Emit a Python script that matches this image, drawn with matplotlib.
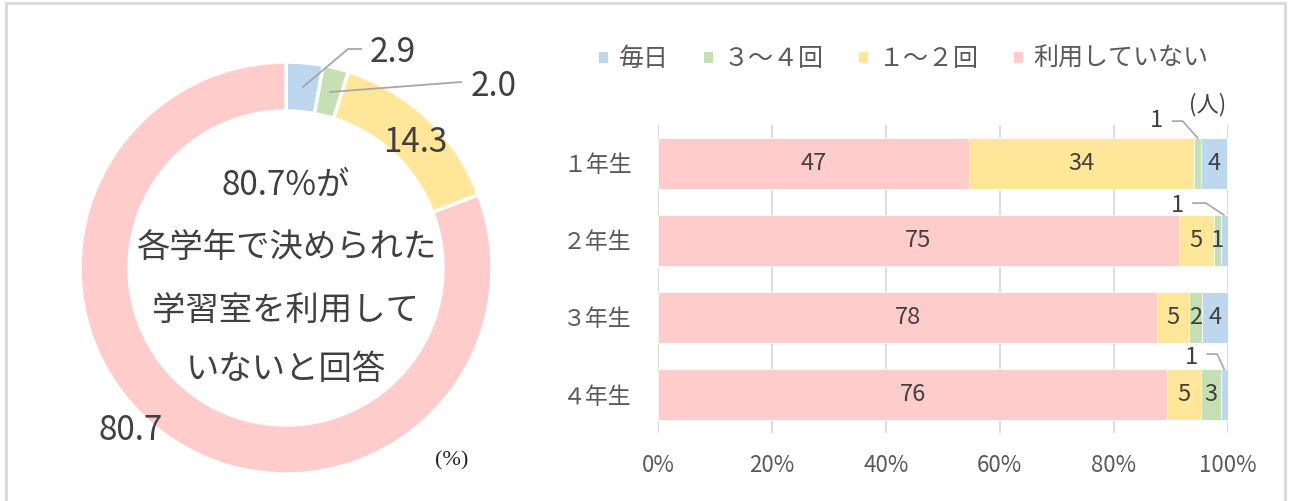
import numpy as np
import matplotlib
matplotlib.use("Agg")
import matplotlib.pyplot as plt
from matplotlib.patches import Rectangle

plt.rcParams['font.family'] = ['Noto Sans CJK JP', 'DejaVu Sans']

# data
grades = ["１年生", "２年生", "３年生", "４年生"]
series = ["利用していない", "１～２回", "３～４回", "毎日"]
not_used = [47, 75, 78, 76]
once_twice = [34, 5, 5, 5]
three_four = [1, 1, 2, 3]
daily = [4, 1, 4, 1]

donut_names = ["毎日", "３～４回", "１～２回", "利用していない"]
donut_pct = [2.9, 2.0, 14.3, 80.7]
center_lines = ["80.7%が", "各学年で決められた", "学習室を利用して", "いないと回答"]

colors = {"毎日": "#BDD7EE", "３～４回": "#C5E0B4", "１～２回": "#FFE699", "利用していない": "#FFCCCC"}
TXT = "#404040"
LBL = "#595959"
W, H = 1290, 501

fig = plt.figure(figsize=(W / 100, H / 100), dpi=100)
fig.patch.set_facecolor("white")
fig.patches.append(Rectangle((6 / W, -0.02), 1279 / W, 1.02 - 3 / H, transform=fig.transFigure,
                             fill=False, edgecolor="#D9D9D9", lw=2))

# ---- donut ----
cx, cy, R = 286, 268, 206
axd = fig.add_axes([(cx - R) / W, (H - cy - R) / H, 2 * R / W, 2 * R / H])
wedges, _ = axd.pie(donut_pct, startangle=90, counterclock=False, radius=1,
                    colors=[colors[n] for n in donut_names],
                    wedgeprops=dict(width=0.238, edgecolor="white", linewidth=2.5))
for w in wedges:
    w.set_clip_on(False)
axd.set_aspect("auto")
axd.set_xlim(-1, 1); axd.set_ylim(-1, 1)
axd.axis("off")


def pd(px, py):
    return (px - cx) / R, (cy - py) / R


fmt = lambda v: f"{v:.1f}"
axd.text(*pd(393, 52), fmt(donut_pct[0]), fontsize=24, color=TXT, ha="center", va="center")
axd.plot(*zip(pd(303, 87), pd(348, 49), pd(361, 49)), color="#A6A6A6", lw=1.3, clip_on=False)
axd.text(*pd(494, 87), fmt(donut_pct[1]), fontsize=24, color=TXT, ha="center", va="center")
axd.plot(*zip(pd(330, 92), pd(461, 82)), color="#A6A6A6", lw=1.3, clip_on=False)
axd.text(*pd(415, 142), fmt(donut_pct[2]), fontsize=24, color=TXT, ha="center", va="center")
axd.text(*pd(131, 430), fmt(donut_pct[3]), fontsize=24, color=TXT, ha="center", va="center")
for line, py in zip(center_lines, [185, 248, 310, 370]):
    axd.text(*pd(cx, py), line, fontsize=24, color=TXT, ha="center", va="center")
axd.text(*pd(452, 461), "(%)", fontsize=16, color="#222222", ha="center", va="center",
         family="Liberation Serif")

# ---- 100% stacked bars ----
left_px, right_px, top_px, bot_px = 658, 1227.5, 125, 433
ax = fig.add_axes([left_px / W, 1 - bot_px / H, (right_px - left_px) / W, (bot_px - top_px) / H])
vals = np.array([not_used, once_twice, three_four, daily], float)
tot = vals.sum(axis=0)
pct = vals / tot * 100
y = np.arange(len(grades))
left = np.zeros(len(grades))
handles = {}
bh = 0.66
for k, name in enumerate(series):
    b = ax.barh(y, pct[k], left=left, height=bh, color=colors[name], edgecolor="white", lw=0.6,
                label=name, zorder=2)
    handles[name] = b
    left = left + pct[k]

# value labels; (series index, grade index) pairs shown with a leader instead
# (elbow dx, elbow dy, horizontal run, text dy) in pixels
callouts = {(2, 0): (-15, -17, 10, -1), (3, 1): (-18, -12, 13, 2), (3, 3): (-7, -15, 10, 3)}
xs, ys = 100 / (right_px - left_px), 1 / 77
cum = np.vstack([np.zeros(len(grades)), np.cumsum(pct, axis=0)])
for k in range(len(series)):
    for i in range(len(grades)):
        xc = (cum[k, i] + cum[k + 1, i]) / 2
        v = int(vals[k, i])
        if (k, i) in callouts:
            dx, dy, run, tdy = callouts[(k, i)]
            top = i - bh / 2
            ex, ey = xc + dx * xs, top + dy * ys
            sx = ex - run * xs
            ax.plot([sx, ex, xc], [ey, ey, top], color="#A6A6A6", lw=1.2, clip_on=False, zorder=3)
            ax.text(sx - 16 * xs, ey + tdy * ys, str(v), fontsize=17, color=TXT, ha="center", va="center")
        else:
            ax.text(xc, i, str(v), fontsize=17, color=TXT, ha="center", va="center", zorder=4)

ax.set_xlim(0, 100)
ax.set_ylim(len(grades) - 0.5, -0.5)
ax.set_xticks([0, 20, 40, 60, 80, 100])
ax.set_xticklabels([f"{t}%" for t in [0, 20, 40, 60, 80, 100]])
ax.set_yticks(y)
ax.set_yticklabels(grades)
ax.tick_params(axis="x", length=0, pad=15, labelsize=16, labelcolor=LBL)
ax.tick_params(axis="y", length=0, pad=19, labelsize=16.5, labelcolor=LBL)
for s in ax.spines.values():
    s.set_visible(False)
ax.grid(axis="x", color="#D9D9D9", lw=1.3, zorder=0)
ax.set_axisbelow(True)
ax.text((1208 - left_px) / (right_px - left_px), 1 + (top_px - 105) / (bot_px - top_px), "(人)",
        transform=ax.transAxes, fontsize=16, color=TXT, ha="center", va="center")

order = ["毎日", "３～４回", "１～２回", "利用していない"]
ax.legend([handles[n] for n in order], order, loc="center left", bbox_to_anchor=(585 / W, 1 - 59 / H),
          bbox_transform=fig.transFigure, frameon=False, ncol=4, fontsize=18, borderpad=0,
          handlelength=0.4, handleheight=0.4, handletextpad=0.45, columnspacing=1.35, labelcolor=LBL)

fig.savefig("out.png", dpi=100, facecolor=fig.get_facecolor())
